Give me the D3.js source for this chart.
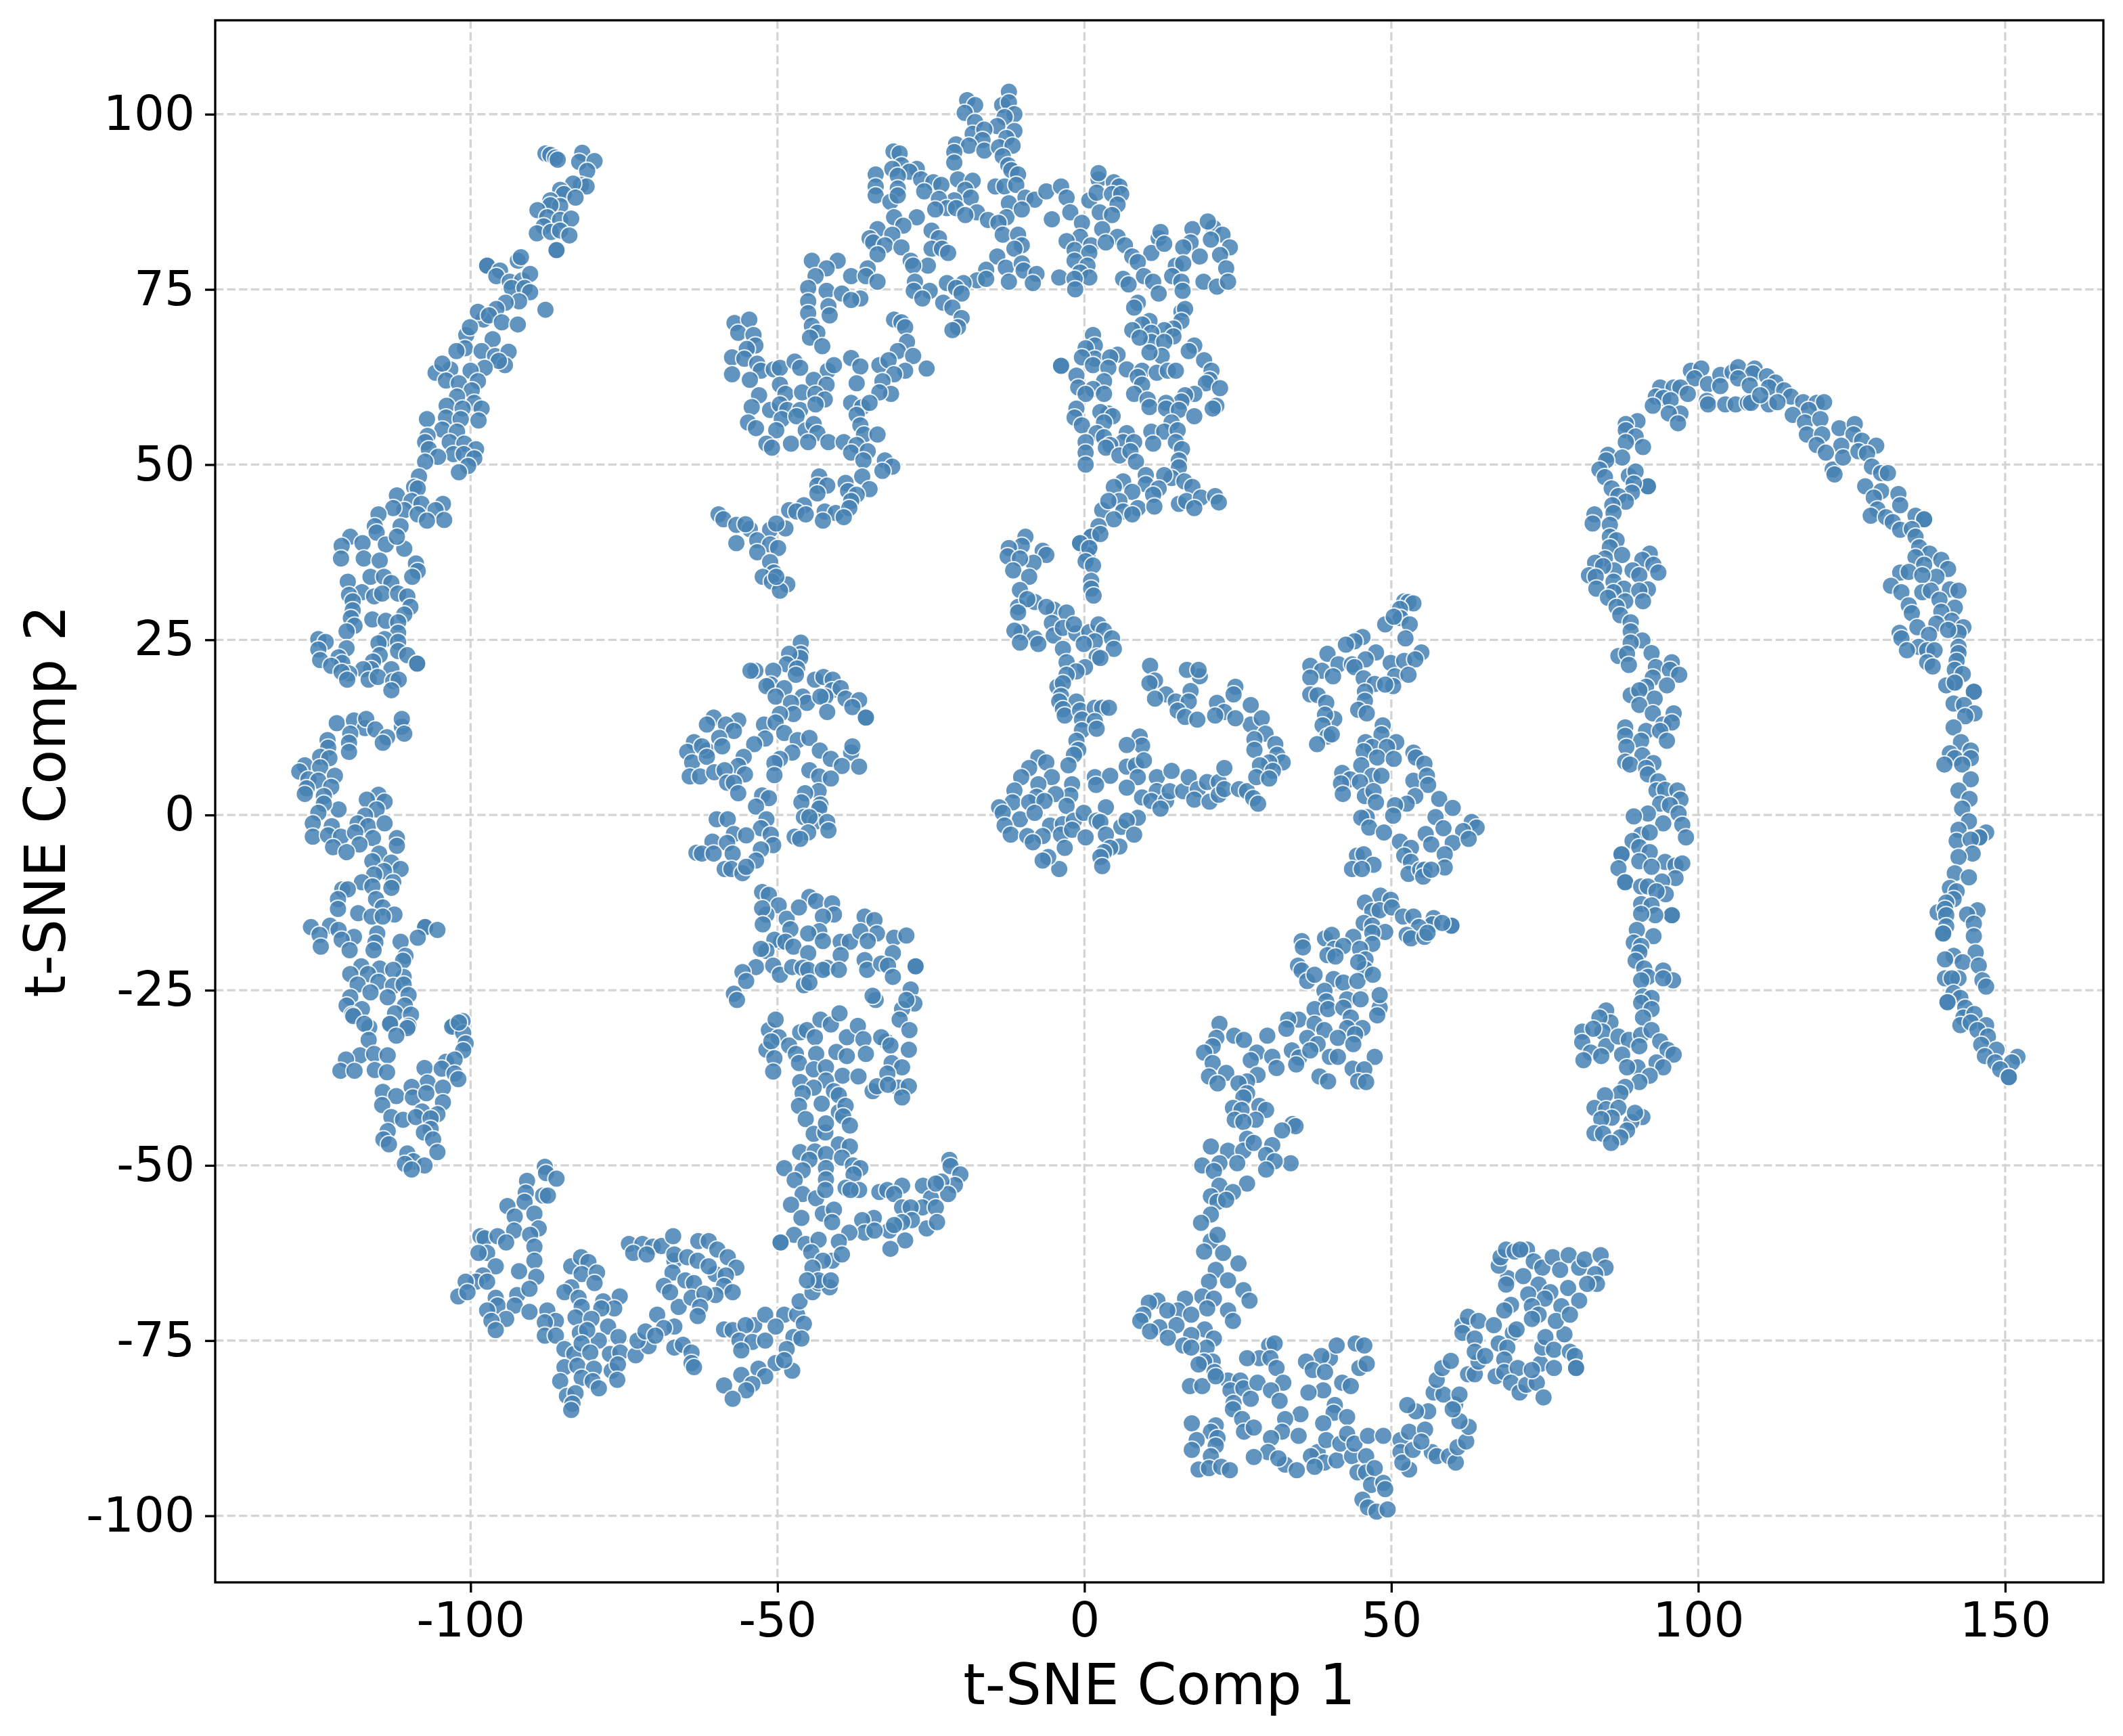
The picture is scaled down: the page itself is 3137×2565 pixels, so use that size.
<!DOCTYPE html>
<html lang="en">
<head>
<meta charset="UTF-8">
<title>t-SNE scatter</title>
<script src="https://d3js.org/d3.v7.min.js"></script>
<style>
  html, body { margin: 0; padding: 0; background: #fff; }
  svg { display: block; }
  text { font-family: "DejaVu Sans", sans-serif; fill: #000; }
</style>
</head>
<body>
<div id="my_dataviz"></div>
<script>
// tick labels
const xTicks = [-100, -50, 0, 50, 100, 150];
const yTicks = [-100, -75, -50, -25, 0, 25, 50, 75, 100];

// points, one list per arm of the embedding
const leftArmTop = [[-87.8,94.4],[-87,94.2],[-86.2,93.8],[-85.8,93.5],[-81.8,94.5],[-82.3,93.2],[-79.8,93.3],[-81,91.9],[-82,89.9],[-81.1,89.7],[-83.3,90.1],[-85.4,89.2],[-84.8,88.6],[-82.9,88.1],[-87,87.7],[-85.4,86.9],[-87,87],[-89.1,86.3],[-87.5,85.3],[-85.4,84.9],[-83.6,85.1],[-88.1,84],[-89.2,83],[-86.9,83.2],[-85.4,83.4],[-83.9,82.7],[-86,80.6],[-86,80.6],[-97.3,78.4],[-97.3,78.4],[-92.3,79.1],[-91.8,79.6],[-95.2,77.7],[-95.8,76.9],[-93.6,76.1],[-91.6,76.3],[-90.3,77.2],[-93.3,75.2],[-91.2,75.2],[-90.3,74.6],[-92.1,73.3],[-87.8,72.1],[-94.3,73.1],[-95.8,72.2],[-97.9,70.7],[-98.8,71.8],[-97,71.3],[-94.9,70.3],[-92.3,70],[-100.7,68.5],[-96.4,67.9],[-100.1,69.6],[-100.9,66.6],[-102.3,66.2],[-98.2,66.2],[-96,65.5],[-93.8,66.1],[-94.4,64.2],[-95.4,64.8],[-97.7,63.8],[-100,63.4],[-103.3,63.6],[-105.7,63.1],[-104.6,64.4],[-104,62],[-101.9,61.6],[-98.8,61.9],[-99.8,60.6],[-102.2,59.7],[-99.4,58.8],[-103.9,58.4],[-101.3,58],[-98.2,58],[-104,56.7],[-107.1,56.5],[-98.7,56.3],[-101.6,56.5],[-104.6,55],[-102.2,54.7],[-107,54.1],[-107.4,53.2],[-103.4,53.2],[-101,53],[-106.8,52.2],[-99.1,52.2],[-102.8,51.5],[-101.1,51.5],[-99.4,50.9],[-105.3,51.1],[-107.4,50.4],[-100.4,49.8],[-101.9,48.9],[-108.4,48.3],[-109.2,46.8],[-108.6,46.6],[-112,45.6],[-109.6,44.8],[-108,44.4],[-110.8,43.5],[-112.6,43.8],[-115,42.9],[-108.6,42.9],[-104.5,44.4],[-105.7,43.5],[-104.3,42.1],[-107.1,42],[-115.6,41.2],[-111.4,41.2],[-119.6,39.7],[-115.3,40.3],[-117.6,38.8],[-121,38.4],[-113.8,38.6],[-110.8,38],[-112,39.7]];

const leftArmUpper = [[-121.1,36.6],[-117.4,36.6],[-114.8,36.3],[-108.9,35.9],[-108.6,34.8],[-109.5,34],[-120,33.3],[-116.3,34],[-114.1,34],[-112.9,33.1],[-117.7,31.8],[-119.8,31.4],[-115.7,31.2],[-114.4,31.6],[-111.8,31.6],[-110.3,31.2],[-119.2,30.5],[-119.2,29.2],[-109.8,29.7],[-110.8,28.6],[-116,27.9],[-113.8,27.7],[-119.5,28.1],[-118.9,27],[-111.8,27.5],[-120.2,26.2],[-111.8,26],[-114,25.1],[-124.8,25.1],[-123.6,24.7],[-124.8,23.6],[-120.2,23.8],[-115,24.5],[-111.8,24.7],[-111.8,23.4],[-110.3,22.8],[-114.8,22.8],[-124.5,22.1],[-121.5,22.5],[-120.9,21.7],[-122.7,21.3],[-108.7,21.6],[-108.7,21.6],[-112.9,20.8],[-115.9,21.9],[-116.2,20.8],[-117.5,20.8],[-119.8,20.2],[-121,20.4],[-120.1,19.3],[-116.6,19.3],[-115.1,19.7],[-112.6,19.1],[-111.7,19.3],[-112.9,17.8]];

const leftArmMiddle = [[-121.8,13.1],[-119,13.5],[-117.2,12.4],[-117,13.7],[-115.5,12.2],[-111.2,12.6],[-111.2,13.7],[-110.8,11.6],[-113.6,11.1],[-114.3,10.3],[-119.6,11.6],[-123.3,10.7],[-119.8,10.3],[-123.2,9.6],[-119.8,9],[-124.5,8.3],[-123,8.1],[-127,7.1],[-124.5,6.8],[-127.9,6.2],[-122.1,5.6],[-126.4,5.1],[-124.8,4.9],[-126.7,3.8],[-122.7,4],[-123.9,2.7],[-127,3],[-115,2.9],[-116.9,2.2],[-114,1.9],[-115.3,0.8],[-121.5,0.8],[-123.9,1.6],[-124.8,0.3],[-117.2,-0.1],[-125.7,-1.2],[-122.6,-1.6],[-118.4,-1.2],[-116.7,-1.6],[-114,-1.2],[-125.7,-3.1],[-123.2,-2.9],[-121.1,-3.1],[-118.8,-2.5],[-115.9,-3.3],[-122.4,-4.6],[-118.1,-4.2],[-120.2,-5.3],[-112,-3.3],[-112,-4.4],[-114.9,-5.5],[-116,-6.6],[-112.9,-6.8],[-111.4,-7.7],[-114.1,-8],[-115.7,-8.5],[-117.7,-9.6],[-112.6,-9.6],[-116,-10.2],[-112.9,-10.4],[-120.9,-10.6],[-120,-10.6],[-121.6,-12],[-115.4,-12],[-121.6,-13.4],[-114.3,-13.2],[-118.3,-14],[-112.4,-14.2],[-116.1,-14.5],[-114.3,-14.5],[-126,-16],[-107.4,-16],[-107.4,-16],[-105.4,-16.4],[-108.6,-17.5],[-122.9,-15.8],[-121.5,-16.4],[-124.6,-17.1],[-119,-17.4],[-115.2,-16.9],[-121,-17.8],[-124.4,-18.8],[-119.7,-19.3],[-115.5,-18.2],[-115.8,-19.3],[-111.4,-18.1],[-110.6,-20.1],[-111,-20.8]];

const leftArmLower = [[-117.8,-21.6],[-114.8,-21.9],[-119.6,-22.7],[-116.7,-22.7],[-110.9,-23.1],[-112.6,-22.1],[-115,-23.8],[-118.4,-24.2],[-112.6,-24.4],[-110.9,-24.2],[-116.3,-25.3],[-119.6,-26],[-110.1,-25.7],[-113.5,-26],[-120.2,-27.2],[-117.7,-27.7],[-110.7,-27.2],[-119.3,-28.5],[-112.3,-28.3],[-109.7,-28.5],[-113.2,-29.9],[-110.1,-30.1],[-116.5,-30.3],[-102.8,-30.1],[-101.3,-29.4],[-119.1,-28.7],[-117.3,-29.8],[-113.1,-29.8],[-110.3,-30.4],[-112.1,-31.5],[-116.6,-32.1],[-103,-30.2],[-101.2,-31.1],[-101.9,-29.6],[-100.8,-32.6],[-101.2,-33.6],[-118,-34.3],[-115.7,-34.1],[-113.5,-34.3],[-104,-35.2],[-102.6,-34.9],[-120.3,-34.9],[-121.2,-36.5],[-118.9,-36.5],[-115.6,-36.4],[-113.6,-36.7],[-107.5,-36.1],[-104.7,-36.2],[-102.6,-36.9],[-102,-37.7],[-107,-38.2],[-104.5,-38.9],[-109.6,-38.8],[-114.3,-39.5],[-112.1,-40.1],[-109.4,-40.3],[-107.2,-39.7],[-114.4,-41.4],[-104.5,-41],[-107.9,-42.3],[-112.9,-43.1],[-111,-43.5],[-108.9,-43.1],[-105.4,-42.7],[-106.5,-43.3],[-106.5,-44.8],[-113.5,-45.1],[-107.6,-45.3],[-106.1,-46.3],[-114.2,-46.3],[-113.3,-47],[-105.4,-48.1],[-110.3,-48.3],[-109.3,-49.4],[-107.5,-50],[-110.7,-49.8],[-109.6,-50.6]];

const bottomLeftA = [[-87.9,-50.2],[-87.7,-51.1],[-86,-51.9],[-90.8,-52.2],[-88.2,-54.3],[-87.4,-54.3],[-91,-53.9],[-91.2,-55.2],[-94,-55.8],[-89.6,-56.9],[-92.8,-57.3],[-88.9,-59],[-92.9,-59.3],[-90.3,-59.9],[-98.4,-60.1],[-97.7,-60.4],[-95.6,-60.1],[-94.2,-61],[-89.6,-61.6],[-97.3,-62.5],[-98.7,-62.5],[-89.6,-63.6],[-95.9,-64.4],[-92.1,-65.1],[-89.3,-65.9],[-98,-65.7],[-99.1,-66.6],[-100.8,-66.6],[-97.3,-66.6],[-102,-68.7],[-100.5,-68.1],[-92.4,-68.5],[-90.4,-67.6],[-95.9,-68.9],[-95.6,-70],[-97.3,-70.7],[-92.8,-70],[-90.4,-70.9],[-87.5,-70.7],[-86.1,-72.2],[-94.2,-71.9],[-96.6,-72.2],[-87.9,-72.4],[-95.9,-73.5],[-87.9,-74.3],[-86.1,-74.3],[-84.7,-76.2],[-83.1,-76.9],[-83.6,-64.4],[-82,-63.1],[-80.8,-63.8],[-81.9,-65.5],[-79.4,-65.3],[-79.8,-66.8],[-83.6,-67.4],[-84.7,-68.1],[-82.4,-68.9],[-75.7,-68.7],[-78.4,-69.4],[-76.6,-70.4],[-78.7,-70.4],[-81.9,-70.2],[-82.9,-71.7],[-80.3,-71.9],[-77.6,-73],[-82.2,-73.9],[-79.1,-75],[-75.9,-74.5],[-81,-73.5],[-81.9,-75.4],[-80.5,-76.7],[-77.3,-76.9],[-75.6,-76.7],[-73.1,-77.1],[-71,-75.8],[-72.8,-75],[-84.7,-78.8],[-82.6,-78.6],[-79.9,-79],[-77,-79.3],[-76,-78.4],[-85.4,-80.8],[-81.9,-80.3],[-80.1,-80.8],[-79.1,-81.8],[-76.1,-80.6],[-84.3,-82.9],[-82.9,-82.5],[-83.4,-84],[-83.6,-84.9]];

const bottomLeftB = [[-69.6,-71.3],[-66.1,-70.2],[-71.5,-73.7],[-66.8,-73],[-68.5,-73.2],[-69.9,-74.3],[-66.8,-76],[-65.4,-75.6],[-64,-76.7],[-64,-78.2],[-63.6,-78.8],[-74.2,-61.2],[-72,-61.2],[-73.5,-62.5],[-70.3,-61.6],[-68.9,-61.5],[-71.3,-62.7],[-67,-60.1],[-66.8,-63.6],[-62.9,-60.8],[-61.2,-60.8],[-66.8,-62.7],[-64.7,-63.1],[-63,-63.6],[-59.8,-62],[-58.1,-63.1],[-56.7,-64.6],[-60.1,-65.5],[-58.4,-65.7],[-61.2,-64.4],[-67.1,-65.3],[-68.5,-67.2],[-65,-66.4],[-63.6,-66.8],[-67.5,-68.1],[-58.7,-67.2],[-60.1,-68.5],[-57.3,-68.1],[-64,-68.9],[-61.9,-68.3],[-62.6,-70.2],[-63,-71.5],[-58.7,-73.4],[-57.3,-73.5],[-53.8,-72.8],[-55.2,-72.8],[-52,-71.3],[-48.9,-71.3],[-46.8,-71.3],[-50.3,-73],[-45.7,-72.6],[-56.2,-75],[-54.1,-75.2],[-52,-75],[-47.4,-74.5],[-46.1,-74.7],[-55.9,-76.4],[-48.5,-76.2],[-50.3,-78.2],[-53.1,-79],[-47.6,-79.3],[-48.9,-77.8],[-55.9,-79.9],[-52,-80.1],[-58.7,-81.4],[-54.1,-81.2],[-55.1,-82.1],[-57.3,-83.3],[-46.4,-69.4],[-44.3,-68.1],[-43.3,-66.8],[-41.5,-67.4]];

const midLobeTop = [[-46.2,24.6],[-46.2,23],[-46.3,22.4],[-48.1,23],[-48.5,21.5],[-46.8,20.9],[-53.6,20.6],[-54.4,20.6],[-50.7,20.6],[-47,20],[-51.1,18.6],[-48.9,18.1],[-51.8,18.4],[-43.9,19.3],[-42.5,19.7],[-41,19.3],[-41.1,17.8],[-42.2,16.9],[-39.7,18.1],[-45.9,16.9],[-45.2,16],[-50.3,16.9],[-47.8,16],[-43,16.9],[-41.9,14.7],[-38.9,16.6],[-36.7,16.4],[-37.8,15.4],[-35.6,13.9],[-35.6,13.9],[-47.4,14.4],[-49.6,14.4],[-60.4,13.9],[-61.5,12.9],[-56.4,13.5],[-58.4,12.9],[-57.1,12],[-59.5,11],[-52.2,12.9],[-50.3,13.2],[-48.9,11.7],[-52,10.9],[-46.7,10.7],[-44.8,11],[-63.6,10.4],[-64.7,9],[-61.5,9.2],[-62.3,9.8],[-53.8,10.1],[-59,9.8],[-43.1,9.2],[-55.5,8.3],[-63.9,7.5],[-61.5,8.3],[-47.6,8.9],[-49.6,8],[-50.5,7.4],[-41.3,8],[-38,8.9],[-37.8,9.8],[-44.8,6.4],[-39.5,7],[-36.7,6.9],[-56.4,7],[-64.3,5.5],[-62.6,5.5],[-60.3,6.1],[-58.6,6.4],[-55.3,5.8],[-50.5,5.7],[-43.2,5.5],[-41.3,5.2],[-58.2,4.6],[-57.1,4.6],[-56.4,3.1],[-43.3,3.4],[-45.5,3.1],[-52.5,2.8],[-51.4,2.4],[-53.5,1.2],[-46.1,1.8],[-43,1.5],[-43.2,0.9],[-59.9,-0.6],[-58.1,-0.6],[-51.8,-0.6],[-52.7,-1.9],[-45.7,-0.3],[-43.7,-0.9],[-44.8,-0.3],[-41.9,-1],[-57.1,-2.7],[-55.1,-2.9],[-41.7,-2.2],[-45,-2.5],[-51.1,-2.8],[-60.6,-3.8],[-58.2,-4],[-50.7,-4.3],[-47.2,-3.1],[-46.3,-3.4],[-52.7,-4.9],[-63.2,-5.4],[-62.3,-5.5],[-60.4,-5.5],[-57.3,-5.5],[-53.5,-6.5],[-58.6,-7.7],[-57.5,-7.7],[-55.7,-8.3],[-55.1,-7.4]];

const midLobeLower = [[-52.5,-11],[-51.4,-11.4],[-49.8,-12.9],[-44.8,-11.7],[-43.7,-12.3],[-51.8,-14.2],[-52.5,-13.3],[-48.5,-14.8],[-52.4,-15.6],[-46.5,-13.2],[-41.1,-12.6],[-40.8,-14.2],[-42.6,-14.5],[-47.9,-16.3],[-43.2,-16.6],[-45,-16.9],[-49.4,-18.1],[-50.5,-17.8],[-48.7,-18.1],[-42.6,-18],[-47.4,-18.8],[-39.7,-18.1],[-38.2,-18.1],[-51.8,-19.4],[-52.7,-19.1],[-45,-19.7],[-39.7,-20],[-53.5,-21.7],[-55.7,-22.4],[-50.7,-21.5],[-49.6,-22.8],[-47.6,-21.7],[-45.9,-21.8],[-45,-22.1],[-41.9,-21.8],[-42.6,-22.1],[-40,-22.1],[-55.1,-23.7],[-45.7,-24.3],[-57.1,-25.5],[-56.6,-26.4],[-44.8,-23.9],[-35.8,-14.5],[-34.2,-15],[-33.8,-16.9],[-36.5,-16.6],[-35.3,-18],[-31,-17.5],[-29,-17.2],[-35.8,-20.7],[-35.4,-22.1],[-31.2,-19.7],[-33.1,-21.2],[-32,-21.5],[-31.2,-23.1],[-27.5,-21.6],[-27.5,-21.6],[-34,-26.4],[-34.5,-25.8],[-28.3,-24.9],[-27.7,-26.9],[-29.7,-27.7],[-29,-26.4],[-30.1,-29.2],[-28.5,-30.7],[-32.3,-32.3],[-33.1,-31.7],[-28.6,-33.5],[-31.6,-32.9],[-31.4,-35.4],[-29.7,-36],[-32.1,-36.9],[-34.5,-39.4],[-30.3,-38.9],[-28.6,-38.7],[-33.8,-38.7],[-29.7,-40.3],[-32,-38.5]];

const midLobeBottom = [[-51.4,-30.7],[-50.3,-29.2],[-49.8,-31.7],[-51.8,-33.5],[-51,-32.3],[-50.5,-34.7],[-50.7,-36.6],[-48.1,-32.9],[-47,-34.1],[-46.5,-35.4],[-46.3,-31],[-45.2,-30.7],[-43.9,-31.7],[-43,-29.2],[-41.3,-29.9],[-39.9,-28.3],[-38.7,-31.7],[-36.9,-30.1],[-36,-32],[-40.4,-33.8],[-43.7,-34.1],[-38.7,-34.4],[-35.6,-34.1],[-44.1,-36.3],[-42.1,-36],[-39.4,-37.2],[-36.8,-37.3],[-46.3,-38.1],[-42.1,-37.9],[-44.1,-38.9],[-40.8,-39.4],[-45.9,-39.7],[-42.8,-41.2],[-40,-40],[-46.5,-41.5],[-40,-42.4],[-38.9,-41.5],[-45.4,-43.4],[-39.3,-43],[-38.2,-44.3],[-44.1,-45.5],[-42.2,-45.3],[-42.1,-44],[-40,-47],[-38.2,-47.3],[-46.3,-48.1],[-43.9,-48],[-42.1,-48.4],[-39.5,-48.9],[-44.8,-49.2],[-37.7,-50],[-48.9,-50.4],[-45.9,-50.7],[-42.1,-50.4],[-36.5,-50.4],[-47.2,-52.1],[-37.6,-51.3],[-42.1,-52],[-38.9,-53.2],[-36.7,-53.5],[-38.1,-53.5],[-22,-49.2],[-21.8,-50.1],[-20.2,-51.3],[-21.1,-52.8],[-23.3,-52.3],[-22.2,-54.1],[-26.3,-52.9],[-25,-54.7],[-24.2,-52.6],[-33.4,-53.8],[-32.1,-53.5],[-29.7,-52.9],[-31,-54.1],[-45.9,-54.1],[-43.7,-54.7],[-42.2,-53.5],[-47.8,-55.6],[-42.6,-56.9],[-40.8,-56.3],[-46.1,-57.5],[-26.4,-56],[-29.7,-56],[-28.3,-56],[-24.2,-56],[-25.7,-59],[-24,-58.1],[-28.1,-57.8],[-29.7,-58.1],[-31.8,-59.3],[-31,-58.5],[-34.3,-57.5],[-36.2,-57.8],[-35.8,-59.6],[-34.2,-59.3],[-38.3,-59.6],[-29.2,-60.7],[-31.6,-61.9],[-41.1,-58.1],[-47.3,-59.9],[-49.5,-61],[-49.5,-61],[-45.4,-61.2],[-43.3,-60.6],[-40,-60.9],[-44.5,-62.4],[-41.1,-63.6],[-42.6,-63.6],[-44.3,-64.6],[-39.5,-62.7],[-43.3,-66.4],[-45.2,-66.4],[-41.3,-66.4]];

const topArcLeft = [[-12.3,103.2],[-19.1,102],[-17.8,101.3],[-13.4,101.3],[-12.3,101.7],[-19.5,100.2],[-11.4,100],[-13,99.6],[-17.8,98.9],[-14.2,98.3],[-11.4,97.6],[-18.2,97.2],[-16.3,97.8],[-16.6,96.3],[-12.7,96.6],[-20.9,95.7],[-18.8,95.5],[-16.3,94.8],[-13.9,95.3],[-11.7,95.5],[-21.2,94.6],[-21.2,93.1],[-13.3,94],[-12.4,92.7],[-11.9,92],[-10.8,91.4],[-31.1,94.7],[-30.1,94.4],[-29.8,92.7],[-31.3,92.2],[-34,91.4],[-27.3,92.2],[-28.5,91.8],[-30.4,91.2],[-26.6,90.7],[-34,89.7],[-30.4,89.4],[-24.6,90.3],[-23.3,89.9],[-20.6,90.7],[-18.2,90.5],[-14.5,89.7],[-13,89.7],[-11.1,89.9],[-34,88.4],[-31.6,87.5],[-30.4,88.4],[-26.1,89],[-19.4,89.2],[-18.5,88.1],[-21.2,87.7],[-23.7,87.9],[-12.3,87.3],[-9.6,88.1],[-8.1,87.8],[-6.2,89],[-3.8,89.7],[-2.9,88.1],[2.3,90.7],[2.3,91.6],[4.8,90.3],[5.7,89.7],[0.8,87.7],[2,88.8],[4.5,88.6],[6,88.6],[5.4,87.1],[-2.3,86],[-5.3,85],[2.5,86],[4.5,85.6],[-0.4,84.5],[-22.4,86.6],[-24.3,86.4],[-17.5,86],[-20.9,86.6],[-15.7,84.9],[-12.7,85.3],[-10.2,86.4],[-31,85.3],[-27.3,85.3],[-29.5,84.1],[-33.7,83.6],[-19.4,85.6],[-14,84.5],[2.9,83.6],[-24.9,83.4],[-31.3,82.8],[-23.7,82.3],[-35,82.3],[-13.3,82.8],[-10.8,82.8],[5.4,82.5],[-0.7,82.5],[12.1,82.3],[12.4,83.2],[21,83.8],[17.6,83.6],[20.1,84.7],[22.5,82.8],[-2.9,81.9],[1.1,81.3],[3.5,81.7],[6.6,81.3],[-34.4,81.7],[-32.5,81.3],[-29.8,81],[-24.9,80.8],[-23.2,80.8],[-22.2,80.2],[-10.2,81.3],[-11.4,80.8],[10.9,80.2],[13,81.5],[17.3,81.7],[16.1,81],[23.7,81],[20.6,82.1],[-1.6,80.6],[7.8,79.7],[-33.7,80],[-28.3,79.1],[-14.2,79.7],[18.8,79.7],[22.1,79.9],[0.8,80.2],[-1.6,79.1],[8.7,78.9],[0.5,78.4],[-25.5,78.4],[-27.9,78.4],[-16,77.8],[-12.8,78.1],[-10.2,78.7],[14.9,78.4],[23.1,78],[-35.3,78],[16.1,78.7]];

const topArcLower = [[-44.4,79.1],[-40.2,79.1],[-42,78],[-43.8,76.9],[-38,76.9],[-35.6,76.9],[-33.7,76.1],[-9.9,77.7],[-7.8,77.2],[-8.4,75.9],[-4.1,76.7],[-0.7,77.4],[0.8,76.7],[-1.6,76.5],[9.7,76.9],[6.3,76.5],[7.2,75.7],[11.2,76.1],[14.3,76.9],[15.8,76.1],[19.4,76.1],[21.6,75.4],[23.4,76.1],[-17.5,76.3],[-19.7,75.9],[-16,76.5],[-12.3,76.1],[-27.6,76.1],[-22.4,75.9],[-20.9,75.2],[-25.2,74.8],[-1.5,75],[16,74.8],[-27.8,74.8],[-45,75.2],[-42,74.8],[-39.5,74.4],[-36.5,73.7],[-38,73.5],[-26.4,73.7],[-20,74.4],[12.1,74.4],[8.7,73.1],[8.1,72.4],[-45,73.3],[-41.7,72.6],[-23,73.1],[-21.5,72.4],[-45,71.6],[-20,70.9],[-41.5,71.3],[-31,70.7],[-29.8,70.3],[-29.2,69.6],[-44.4,69.8],[-20.6,69.6],[-21.5,69.2],[-43.5,68.8],[-44.7,68.1],[-42.7,66.9],[-57,70.2],[-54.6,70.7],[-56.4,68.8],[-53.9,68.5],[-53.6,67],[-28.9,67.5],[-30.4,66.2],[-55,66.5]];

const upperLeftBlock = [[-57.4,65.3],[-55.4,65.1],[-57.4,62.9],[-53.3,64.4],[-52.7,63.4],[-50.6,63.6],[-49.6,63.8],[-47.2,64.7],[-46.3,63.8],[-41.8,63.4],[-40.8,64.2],[-38,65.2],[-36.5,64],[-33.4,64.2],[-27.9,65.5],[-31.9,64.9],[-25.7,63.7],[-54.5,62.1],[-29.2,63.4],[-31,62.9],[-44.1,62.1],[-37.1,61.6],[-32.9,61.9],[-49.6,61.4],[-42,61.4],[-53,59.9],[-48.7,60.1],[-46,60.3],[-43.8,60.1],[-42.3,59.3],[-31.5,60.1],[-33.4,60.3],[-54.2,58.2],[-51.2,57.8],[-49.6,58.6],[-48.4,57.8],[-46.3,57.8],[-43.8,58.6],[-38,58.8],[-36.2,58.2],[-35,58.8],[-37.1,57.1],[-54.8,56],[-53.5,55.2],[-49.3,56.5],[-46.9,56.9],[-50.2,54.9],[-45.4,54.9],[-44.1,55.8],[-36.5,55.6],[-43.5,54.5],[-51.8,53],[-50.9,52.4],[-47.8,53],[-45,53.2],[-41.7,53.2],[-39.2,53.2],[-35.9,54.3],[-33.7,54.3],[-37.1,52.8],[-38,51.7],[-35.3,51.9],[-36,50.6],[-32.5,50.6],[-31.3,49.7],[-32.9,49.1],[-36.2,48.3],[-43.2,48.3],[-43.5,47],[-41.9,47],[-38.9,47.4],[-35,46.5],[-38.5,46.2],[-43.5,45.9],[-37.1,45.7],[-38,44.8],[-48.1,43.5],[-45.7,44.2],[-46.9,43.3],[-45.4,42.9],[-42.3,43.3],[-40.5,43.1],[-38.3,43.8],[-39.2,42.5],[-42.6,42],[-59.6,42.9],[-58.8,42.2],[-56.7,41.4],[-54.5,40.8],[-55.2,41.5],[-51.2,40.7],[-48.7,40.9],[-50.2,41.6],[-56.7,38.8],[-53.3,39.2],[-51.2,38.6],[-53.3,37.5],[-49.9,38.1],[-51.2,36.1],[-50.6,34.6],[-52.4,34],[-50.9,33.3],[-48.4,32.9],[-49.6,32],[-50.2,34]];

const upperRightBlock = [[15.8,71.8],[16.4,72.2],[15.8,70.5],[14.5,69.4],[13,69.2],[10.6,70.5],[9.4,70],[7.8,69.2],[1.4,68.5],[10.9,68.8],[10.9,67.5],[14.5,68.3],[9,68.1],[13,67.5],[1.7,67],[0.2,66.6],[17.9,67],[17,66.2],[5.4,65.7],[1.7,65.1],[4.2,65.3],[-0.4,65.3],[12.6,65.5],[10.6,66],[19.5,64.9],[-3.8,64.1],[-3.8,64.1],[1.4,64.2],[3.9,63.8],[6.9,63.6],[9.4,63.4],[11.8,63.1],[13.6,63.4],[14.9,63.4],[20.7,63.4],[-1.3,62.7],[8.7,62.5],[3.2,61.9],[20.4,62.1],[9.4,61.4],[19.8,61.6],[-1,61],[1.4,60.8],[22.1,60.9],[0.2,60.1],[3.2,60.1],[8.1,60.1],[17.9,60.1],[16.4,59.9],[10.3,59.3],[15.8,59],[13.3,58.8],[21.5,58.4],[-1.3,58],[3.9,57.3],[2.6,57.5],[10.6,58.2],[13.3,58],[15.4,57.8],[20.9,58],[-1.6,56.7],[4.6,56.9],[17.9,56.9],[14.2,56],[-0.4,55.6],[3.2,56],[10.9,54.7],[13,54.7],[15.2,54.9],[2,54.5],[6.9,54.5],[3.2,53.9],[0.2,53.2],[6.3,53.2],[8.1,53.2],[4.2,52.8],[11.2,53],[14.9,53.2],[0.2,51.7],[3.5,52.4],[5.7,51.3],[7.5,51.9],[15.9,52.2],[8.4,50.4],[0.2,50],[15.4,50.6],[15.4,49.6],[10,48.5],[14.2,48.1],[16.3,47.6],[13,48.5],[6.3,47.6],[4.8,46.8],[10,47.2],[7.8,46.1],[12.1,46.6],[17.6,46.8],[11.2,45.7],[5.7,44.8],[8.7,43.8],[2.9,43.5],[3.9,44.8],[15.4,44.4],[16.6,44.8],[19,45.3],[21.3,45.5],[21.9,44.6],[17.9,43.8],[11.4,44],[6.3,43.3],[7.8,42.9],[4.8,42.2],[2.3,41.2],[1.1,39.7],[0.8,38.4],[-0.7,38.8],[0.5,37.1]];

const centerStem = [[1.1,39.7],[-0.7,38.8],[0.8,38.1],[0.2,36.2],[1.4,35.6],[1.1,33.4],[1.1,32.3],[1.5,31.3],[2.6,40.1],[-9.6,39.7],[-10.2,38.4],[-12.3,38.1],[-6.8,37.7],[-6.2,37.1],[-12.5,36.9],[-8.3,36],[-10.5,36.6],[-11.6,34.9],[-9,34],[-10.5,32.1],[-10.8,29.7],[-8.1,30.4],[-9.3,30.8],[-10.8,28.9],[-5,29.3],[-6.2,29.7],[-2.9,28.9],[-5.3,27.4],[-10.2,26.1],[-11.4,26.3],[-8.1,25.2],[-10.5,24.6],[-7.5,24.4],[-5,25.6],[-3.5,26.7],[-1.3,25.9],[-1.7,27.2],[0.8,26.1],[2.3,27.2],[3.2,26.3],[1.7,24.8],[4.5,25.2],[4.8,23.7],[-3.5,23.7],[-0.1,24.4],[2,22.6],[2.6,22.4],[-2.9,21.8],[0.1,21.1],[-1.3,20.5],[-2.9,20],[-4.4,18.3],[-3.5,18.8],[-3.8,17],[-1.3,16.2],[-4.1,16.2],[-3.5,15.1],[-3.2,14.2],[-0.7,14.9],[1.7,15.3],[2.9,15.3],[4,15.3],[-0.4,13.6],[1.7,13.4],[-0.4,12.1],[2,12.3],[-1.3,10.6],[-1,9.3],[-1.7,8.6]];

const centerBlob = [[-7.5,8.2],[-9,6.7],[-6.2,7.5],[-2.6,7.1],[-5.3,5.4],[-10.3,5.4],[-11.4,3.5],[-7.5,4.4],[-2,4.4],[-2.3,2.8],[-4.7,3],[-7.8,2.6],[-11.7,1.8],[-13.9,1.1],[-9,1.8],[-6.5,2],[-13.3,0.3],[-10.5,-0.6],[-2.9,1.3],[-8.1,0.3],[-13,-1.5],[-5.6,-1.5],[-3.5,-1.3],[-12,-2.8],[-9.3,-3],[-6.8,-3],[-3.8,-2.8],[-1.7,-0.8],[-0.1,0.3],[-2,-2.1],[-3.2,-4.7],[0.2,-3.2],[-4.1,-7.7],[-5.9,-6],[-6.8,-6.5],[-8.4,-3.9],[1.7,5.4],[4.2,5.6],[1.9,4.3],[6.9,6.9],[8.4,7.1],[9,11.2],[9.4,9.9],[6.9,10],[8.7,5.4],[9.7,7.8],[6.9,3.9],[11.8,5.4],[3.5,1.1],[9.4,2.5],[11.8,3.4],[10.9,2],[13.3,2],[12.4,0.9],[14.2,6.3],[13.9,3.4],[16.1,3.4],[17,5.4],[18.5,3.7],[17.9,2.2],[20.4,1.9],[20,4.7],[21.9,4.7],[22.8,6.7],[21.9,2.9],[22.8,3.7],[25.2,3.7],[26.5,3.4],[27.5,2.4],[28.3,1.6],[2,-0.8],[2.6,-1],[6,-1.7],[8.7,-0.4],[6.9,-0.8],[8.1,-2.8],[3.5,-2.8],[5.7,-4.5],[4.2,-4.7],[3.2,-5.3],[2.6,-6],[2.9,-7.3],[10.7,21.3],[11.5,19.2],[10.6,18.8],[18.8,19.8],[16.7,20.7],[18.6,20.7],[17.3,17.7],[13.3,17.2],[11.5,16.6],[14.9,16.2],[17,16.2],[15.2,14.9],[16.4,14],[18.4,13.6],[24.6,18.3],[24.3,17.2],[21.6,16],[27.1,15.7],[22.8,14.7],[21.3,14.2],[27.1,12.9],[28.9,13.8],[24.6,13.8],[29.5,11.6],[27.7,10.8],[31.1,10.1],[27.7,9.3],[31.4,8.6],[32.3,7.5],[30.1,7.5],[28.6,7.1],[30.7,6.3],[28,5.4],[30.1,5.2]];

const rightLobeUpper = [[52.1,30.5],[52.8,30.4],[53.6,30.2],[51.4,29.4],[51.5,28.1],[49,27.2],[53,27.2],[50.4,28.3],[52.3,25.2],[45.3,25.4],[44,24.8],[42.6,24.3],[47.5,23.2],[54.9,23.2],[39.6,23],[36.8,21.3],[41.4,21.5],[43.6,21.5],[45.8,22.2],[49.9,21.7],[52.1,22],[53.9,22.2],[38.7,20.6],[44,21.1],[36.8,19.6],[40.5,19.8],[45.5,19.5],[50.6,19.8],[52.8,20],[47.3,18.7],[50.3,18.4],[49,18.6],[36.8,17.2],[38,17.1],[45.7,17.6],[39.4,16],[45.7,16.3],[44.6,15],[46,14.5],[40.7,13.7],[39.2,14.3],[38.8,12.8],[39.6,11.2],[37.9,10.1],[40.3,11.5],[48.6,12.8],[48.4,11.5],[45.8,10.4],[50.8,10.4],[46.9,9.7],[49.3,9.7],[53.6,8.9],[54,8.2],[45.5,9.1],[47.7,8.2],[50.4,8],[55.4,7.3],[45.1,7.1],[42,6],[46.9,5.6],[43.3,5.1],[48.4,5.6],[53.6,4.9],[55.8,5.6],[41.8,4.5],[44.9,4.7],[42.1,3],[56,4.3],[45.7,2.7],[47.1,3.4],[47.5,1.8],[53.9,2.7],[52.5,1.6],[50.6,1.4],[57.8,2.3],[60,1],[46,-0.3],[45.1,-0.4],[50.3,-0.1],[57.2,-0.3],[46.4,-1.8],[48.8,-2.5],[63.1,-1],[63.9,-1.8],[58.5,-1.9],[61.7,-2.3],[55.6,-2.7],[51.4,-3.8],[56.5,-4.2],[60,-4],[62.6,-3.4],[53.2,-4.7],[58.7,-5.6],[58.7,-7.5],[52.1,-5.8],[53.2,-6.7],[52.8,-8.4],[54.7,-7.8],[55.4,-7.8],[55.2,-8.8],[56.5,-7.8],[44.4,-5.8],[45.5,-5.6],[47.1,-7.1],[43.6,-7.7],[45.2,-7.7],[48.2,-11.5],[45.7,-12.5],[49.9,-12.1],[46.9,-13.7],[48.1,-13.6],[50.1,-13.2],[51.9,-14.5],[53.6,-14.5],[56.9,-14.7],[59.8,-15.8],[59.8,-15.8],[56.7,-15.6],[58.3,-15.4],[54.5,-16],[45.5,-15.4],[46.9,-15.8],[49,-16.7],[52.5,-17.1],[53.2,-17.6],[55.4,-17.4],[55.9,-16.8],[46.9,-16.8],[43.8,-17.4],[35.4,-18],[35.6,-18.9],[39.2,-17.6],[40.3,-17.1],[40.7,-19.1],[42.2,-18.7],[46.9,-18.4],[44.9,-19.1],[39.6,-20],[40.9,-20.2],[34.8,-21.5],[35.4,-22.2],[45.8,-20.6],[45.7,-22],[44.6,-21]];

const rightLobeLower = [[36.3,-23.7],[37.5,-22.8],[40.6,-23.4],[42.2,-23.9],[44.5,-23.7],[47,-22.8],[39.1,-25.1],[42.8,-26.3],[39.4,-26.6],[45,-26.3],[48.1,-27.5],[37.5,-27.7],[39.7,-27.7],[42.2,-27.5],[48.1,-25.7],[43.4,-28.9],[47.7,-28.6],[34.9,-29.2],[33.2,-29.2],[37.5,-29.8],[32.9,-30.5],[39.1,-30.7],[45.3,-30.4],[42.8,-30.4],[44.1,-31.3],[36.3,-31.8],[41.3,-31.8],[38,-32.7],[43.8,-32.7],[22,-29.8],[24.4,-31.5],[26,-32.1],[21.5,-31.8],[20.9,-33],[29.8,-31.5],[28.1,-33.9],[30.6,-34.5],[33.8,-33.6],[35,-34.6],[36.8,-33.6],[19.5,-33.9],[20.9,-35.4],[40,-34.5],[41.3,-34.5],[47.3,-34.5],[27.1,-35],[31.3,-36.1],[34.5,-35.6],[20.3,-37.3],[23.1,-36.8],[43.7,-36.2],[45.6,-36.3],[38.3,-37.3],[39.7,-38],[44.6,-38],[45.9,-38.1],[28.2,-37.1],[26.5,-38],[25.1,-38.3],[21.7,-38.3],[26.5,-39.7],[25.9,-40.3],[24.2,-41.8],[25.6,-42.1],[28.5,-41.5],[29.6,-42.1],[24.5,-43.5],[27.9,-43.5],[25.9,-43.8],[33.9,-44.1],[34.4,-44.4],[32.2,-45],[30.6,-47.1],[26.5,-46.2],[20.6,-47.3],[23.4,-47.9],[25.9,-47.9],[27.6,-46.8],[29.6,-48.5],[22,-49.7],[19.2,-50],[24.9,-49.7],[33.6,-49.7],[31,-49.4],[29.6,-50.6],[21.1,-50.8],[26.5,-52.6],[22,-52.9],[24.2,-53.8],[20.6,-54.4],[21.7,-55.2],[23.1,-54.9],[20.6,-57],[19,-58.2],[20.6,-60.8],[21.7,-59.9],[19.5,-62.3],[22.6,-62.5],[25.1,-64],[21.4,-64.9],[23.4,-66.4],[20.3,-66.6],[25.9,-67.8],[19.2,-68.7],[21.1,-69],[26.9,-69.3],[20,-70.4],[23.4,-70.7],[24.2,-72.2]];

const bottomRightA = [[11.9,-69.3],[10.5,-69.6],[16.4,-69],[15.2,-70.7],[13.5,-70.7],[9.6,-71.3],[9.1,-72.2],[17.4,-71.3],[15,-72.8],[12.2,-73.1],[19.6,-73.4],[10.7,-73.7],[17.4,-74.2],[21.1,-74.7],[13.6,-74.6],[16.1,-75.7],[19.9,-76],[17.4,-76],[30.1,-75.7],[31,-75.4],[28.5,-77.5],[26.5,-77.5],[30.3,-77.5],[20.9,-78],[19.5,-78],[18.6,-78.4],[31.3,-78.9],[21.2,-79.5],[17.2,-81.5],[19.2,-81.5],[23.4,-80.7],[25.4,-80.7],[21.4,-80.1],[23.8,-82.1],[25.9,-81.8],[28.2,-81],[32.4,-81],[30.4,-82.1],[24.3,-83.9],[27.1,-83.3],[31.8,-83.6],[35.2,-85.5],[24.2,-84.8],[25.7,-86.2],[32.7,-86.2],[26,-88],[27.6,-87.4],[32.2,-88],[40,-77.5],[38.6,-77.2],[41.1,-75.7],[44.2,-75.4],[45.6,-75.7],[36.1,-78],[37.2,-79.2],[39.2,-79.5],[44.8,-78.9],[46,-78.3],[38.9,-82.1],[42,-81],[43.4,-81.5],[36.5,-82.4],[40.8,-84.2],[40.6,-85.3],[38.9,-86.8],[42.8,-85.9],[17.5,-86.8],[21.4,-87.1],[20.6,-88],[18.3,-89.2],[21.7,-88.9],[17.5,-90.6],[21.4,-90],[20.6,-91.5],[18.6,-93.4],[20.3,-93.2],[22.3,-93],[23.7,-93.5],[30.4,-88.9],[34.9,-88.6],[29.9,-90.9],[27.6,-91.6],[32.7,-92.7],[31.6,-91.8],[34.6,-93.5],[38,-90.9],[36.9,-91.5],[39.1,-92.4],[37.5,-93],[39.4,-89.2],[41.1,-92.1],[41.7,-89.7],[42.8,-88.3],[43.6,-91.5],[44,-89.7],[46.2,-88.6],[48.7,-88.6],[45.9,-91.5],[44.5,-93.8],[45.9,-93.8],[47.3,-93.2],[46.7,-95.6],[48.7,-95.3],[45.3,-97.7],[46.2,-98.8],[47.6,-99.4],[49.4,-99.1],[49,-96.2]];

const bottomRightB = [[51.5,-89.2],[52.9,-88],[51.5,-90.9],[52.9,-93.4],[51.8,-92.4],[53.5,-90.6],[55.5,-87.7],[56.6,-90.9],[54.9,-89.4],[57.4,-91.5],[59.4,-91.5],[60.5,-92.4],[60.8,-90.2],[62.2,-89.4],[62.6,-87.3],[61.1,-86.5],[60.4,-84.1],[56,-85.1],[54,-85.1],[52.6,-84.2],[56.9,-82.4],[58.5,-82.7],[61.1,-82.7],[57.4,-80.6],[58.3,-78.9],[59.7,-77.9],[60,-84.8],[62.5,-79.8],[63.6,-79.8],[64.2,-78],[61.6,-72.8],[62.5,-71.6],[64.2,-72.2],[66.7,-72.8],[61.6,-73.9],[63.6,-74.7],[69.8,-73.9],[70.4,-73.4],[67.5,-75.4],[68.9,-76],[63.6,-76.6],[65.3,-77.2],[68.4,-77.7],[67,-80.1],[68.4,-79.5],[70.6,-78.9],[69.5,-81],[70.9,-82.4],[72,-81.3],[73.7,-81],[74.8,-83.1],[74.3,-78.3],[74.6,-76],[75.1,-74.5],[76.5,-76.3],[76.5,-78.9],[78.2,-74.1],[79.1,-76.6],[79.9,-77.2],[80.1,-78.9],[80.1,-78.9],[72.9,-79.2],[69,-66.1],[67.5,-64.3],[67.8,-63.1],[68.7,-62],[70.1,-62.3],[72.1,-62],[71,-62],[68.7,-67],[71.5,-65.8],[73.2,-63.7],[74.6,-64.6],[76.3,-63.1],[77.5,-64.9],[78.9,-62.8],[80.6,-64.6],[81.5,-63.4],[84.1,-62.8],[84.9,-64.6],[83.2,-65.5],[83.5,-66.9],[74,-67],[75.9,-68.1],[78.8,-67.5],[72.3,-68.4],[80.6,-69.3],[75,-69],[69.5,-69.9],[68.4,-70.7],[72.9,-70.1],[77.7,-70.1],[74,-71.3],[72.9,-71.9],[76.8,-72.2],[79.1,-71.3],[81.9,-66.9]];

const arcTop = [[98.8,63.4],[100.5,63.7],[99.4,62.3],[101.6,61.5],[103.6,62.8],[105.6,63.2],[106.5,63.9],[109.2,63.7],[108.9,63],[106.5,62.3],[108.4,61.3],[103.6,61.2],[111.2,62.6],[112.6,61.7],[111.5,61],[114,60.6],[115.1,59.7],[101.4,59.1],[101.6,58.6],[104.4,58.6],[106.1,58.6],[108.1,58.8],[108.6,58.8],[111.5,58.6],[112.9,58.9],[110.1,59.9],[117.1,58.9],[119.3,58.8],[120.5,58.9],[118,57.8],[115.4,57.1],[93.8,61],[93.1,59.7],[96,61],[97.1,61],[98.3,60.1],[94.3,59.5],[92.6,58.4],[95.5,59.2],[97.1,57.3],[95.2,57.3],[96.7,55.9],[117.4,56],[119.9,56.5],[123,55.2],[125.5,55.8],[117.7,54.3],[120.2,54.3],[125.3,54.3],[123.3,52.7],[126.7,53.4],[129,52.7],[119.3,52.8],[120.8,51.7],[121.9,49.3],[122.2,48.6],[123.6,51],[126.1,51.9],[127.5,51.6],[128.3,49.7],[129.8,48.8],[130.9,48.8],[127.2,46.9],[129.8,46.2],[128.6,45.3],[132.6,45.8],[132.9,44.2],[129.2,43.6],[128.1,42.7],[130.6,42.5],[131.7,41.8],[135.4,42.7],[136.8,42.2],[136.8,42.2],[132.9,40.7],[134.8,40.8],[135.4,39.7],[136,38.2],[137.7,37.3],[139.6,36.4],[135.4,36.8],[136.8,35.7],[140.7,35.1],[132.9,34.6],[134.3,34.7],[138.8,34],[136.5,34.2],[131.4,32.7],[141,32.2],[142.4,32],[133.1,31.8],[136.5,31.8],[137.9,32],[134.3,29.9],[139.3,30.7],[141.8,29.6],[134.8,28.8],[139.6,29],[141.3,27.7],[138.8,27.3],[135.7,26.8],[143.2,26.8],[142.4,26],[132.8,26],[137.6,25.7],[133.1,25.2],[140.7,26.4],[135.9,24],[134,23.5],[137.3,23.5],[138.5,23.5],[137.3,21.8],[138.2,21.2],[142.4,24],[142.4,23.1],[142.1,22],[141.8,20.7],[143.1,20.1],[141.8,18.8],[140.4,18.5]];

const arcLeft = [[90.1,56.2],[88.2,55.8],[88.2,54.9],[89.8,54],[88.2,53.2],[91,52.5],[85.3,51.4],[87.6,51],[85,50.6],[83.9,49.3],[84.8,48.2],[88.7,48.4],[89.8,49],[91.8,46.9],[91.8,46.9],[89.5,47.3],[85.9,46.6],[89.2,46],[87,45.5],[88.2,44.7],[83.1,42.9],[86,44.2],[86.2,43.1],[82.8,41.6],[85.6,41.4],[85.6,39.7],[86.7,39.2],[85.6,38.2],[84.8,36.6],[87.6,37.1],[92.1,37.3],[90.9,36.4],[83.2,36],[86.3,34.9],[84.5,35.5],[92.7,35.7],[82.2,34.2],[83.3,34],[89.3,34.9],[93.5,34.6],[90.4,34.2],[86.2,33.3],[83.4,32.3],[87.9,32.3],[91.8,32.2],[90.4,32],[86.2,31.8],[85.3,31],[91,30.5],[88.1,30.5],[86.7,29.7],[87.3,28.5],[89,27.5],[89,26.2],[90.9,24.9],[89,24.6],[92.4,23.1],[87,22.7],[88.4,23],[88.7,21.4],[93.1,21.1],[95.7,21.8],[95.4,20.7],[96.9,20],[92.6,19.6],[94.9,18.5],[91.5,18.3]];

const stripLeft = [[89,17.1],[90.4,17.8],[92.9,16.6],[90.4,15.7],[92.6,14.5],[96,14.5],[88.1,12.5],[94.3,12.9],[95.7,13.2],[88.1,11.3],[91.5,12],[93.8,12],[94.9,10.6],[90.7,10.6],[88.3,9.7],[90.9,8.5],[88.1,7.6],[88.9,7.2],[92.7,7.4],[91.5,6.7],[91.8,5.8],[93.5,4.8],[93.2,3.5],[94.6,3.6],[96.6,3.5],[97.1,2.2],[93.8,1.6],[95.4,1.4],[91.8,0.2],[89.5,-0.2],[96.8,0.2],[94.3,-1.2],[97.4,-1.4],[90.7,-2.8],[92.1,-2.5],[98,-3.2],[89.3,-3.7],[90.4,-4.6],[92.1,-5.3],[87.5,-5.6],[87.5,-5.6],[90.4,-6.6],[87,-7.6],[94.6,-6.7],[96.3,-7.2],[92.4,-7.4],[97.4,-6.9],[96.3,-9],[94.1,-9.5],[88.1,-9.6],[88.1,-9.6],[90.7,-10.2],[91.8,-10.2],[94.7,-11.3],[93.2,-10.9],[90.7,-12.7],[92.4,-12.9],[95.7,-14.3],[95.7,-14.3],[93,-14.3],[90.7,-14.1],[90,-16.4],[92.7,-17.3],[89.5,-18.2],[90.7,-18.7],[90.4,-19.6],[89.8,-20.8],[91.2,-21.9],[94.3,-22.2],[91.8,-23.1],[95.9,-23.6],[90.7,-23.6],[94.3,-23.3],[91,-25.9],[92.4,-26.1],[90.7,-26.8],[92.4,-27.7],[91,-28.9],[85,-27.9],[85.7,-29.6],[83.9,-28.9],[81.1,-30.9],[84.4,-30.9],[82.9,-30.5],[81.1,-32.4],[85,-33],[87,-31.6],[88.7,-32.1],[90.7,-31.4],[92.4,-30.7],[93.8,-32.3],[90.4,-33],[95,-33.5],[82.5,-33.9],[81.3,-35],[84.2,-34.4],[87.6,-34.2],[96,-34.2],[90.1,-36],[93.2,-35.3],[94.3,-36],[88.4,-36],[92.1,-37.2],[90.4,-38.1],[88.1,-38.8],[87.3,-39.7],[84.8,-40],[83.1,-41.8],[85,-42],[87,-41.8],[90.9,-43.1],[85.9,-43.2],[84.2,-43.4],[89.1,-43.8],[89.7,-42.5],[83.1,-45.4],[84.5,-45.5],[88.4,-45],[87.3,-46],[85.8,-46.8]];

const stripRight = [[141.8,18.9],[144.9,17.6],[144.9,17.6],[141.6,15.9],[143.3,15.7],[145,14.5],[143.5,14.1],[141.6,12.5],[142.8,10.4],[144.4,9.2],[141,8.8],[141.8,8.1],[140.1,7.2],[144.4,8.1],[143,7.2],[144.4,5.1],[142.4,3.5],[144.2,2.3],[143,0.9],[144.1,-0.9],[142.4,-2.1],[142.1,-3.7],[146.9,-2.5],[145.8,-3.2],[145.8,-3.2],[144.4,-3.5],[144.7,-5.5],[142.4,-6],[141.8,-8.3],[144.1,-8.9],[141,-10.4],[142.1,-10.9],[141.6,-12],[140.4,-12.5],[139,-13.9],[140.2,-13.4],[140.4,-14.3],[145.5,-13.6],[143.8,-14.2],[144.9,-15.5],[140.4,-15.9],[139.9,-16.9],[139.9,-16.9],[144.9,-17.3],[145.2,-19.6],[141.6,-20.1],[140.2,-20.6],[143.1,-21],[145.7,-21.5],[140.2,-23.3],[142.4,-23.3],[141.3,-23.3],[146.3,-23.6],[146.9,-24.5],[141.6,-25.4],[142.7,-26.1],[140.6,-26.7],[140.6,-26.7],[143.5,-27.5],[143.2,-28.9],[145,-28.4],[142.7,-30],[144.4,-29.6],[146.9,-30],[145.5,-30.7],[147.2,-31.6],[146.1,-32.8],[148.6,-33.5],[146.7,-34.4],[148.4,-35.3],[152,-34.5],[151.1,-35.3],[149.2,-36.3],[150.6,-37.4],[150.6,-37.4]];

const arms = [leftArmTop, leftArmUpper, leftArmMiddle, leftArmLower, bottomLeftA, bottomLeftB,
  midLobeTop, midLobeLower, midLobeBottom, topArcLeft, topArcLower, upperLeftBlock, upperRightBlock,
  centerStem, centerBlob, rightLobeUpper, rightLobeLower, bottomRightA, bottomRightB,
  arcTop, arcLeft, stripLeft, stripRight];
const points = d3.merge(arms);

const width = 3137, height = 2565;
const margin = {top: 30, right: 29, bottom: 227, left: 318};

const svg = d3.select("#my_dataviz").append("svg")
  .attr("width", width)
  .attr("height", height);

const x = d3.scaleLinear().domain([-141.6, 166]).range([margin.left, width - margin.right]);
const y = d3.scaleLinear().domain([-109.5, 113.4]).range([height - margin.bottom, margin.top]);

// grid
svg.append("g").selectAll("line").data(xTicks).join("line")
  .attr("x1", d => x(d)).attr("x2", d => x(d))
  .attr("y1", margin.top).attr("y2", height - margin.bottom)
  .attr("stroke", "#d4d4d4").attr("stroke-width", 3.3).attr("stroke-dasharray", "12.3,5.3");
svg.append("g").selectAll("line").data(yTicks).join("line")
  .attr("x1", margin.left).attr("x2", width - margin.right)
  .attr("y1", d => y(d)).attr("y2", d => y(d))
  .attr("stroke", "#d4d4d4").attr("stroke-width", 3.3).attr("stroke-dasharray", "12.3,5.3");

// points, a bit larger and more opaque than the original since fewer of them overlap
svg.append("g").selectAll("circle").data(points).join("circle")
  .attr("cx", d => x(d[0]))
  .attr("cy", d => y(d[1]))
  .attr("r", 13)
  .attr("fill", "steelblue")
  .attr("stroke", "#fff")
  .attr("stroke-width", 2)
  .attr("opacity", 0.85);

// axes
const xAxis = svg.append("g")
  .attr("transform", `translate(0,${height - margin.bottom})`)
  .call(d3.axisBottom(x).tickValues(xTicks).tickFormat(d => String(d)).tickSize(15).tickPadding(15).tickSizeOuter(0));
const yAxis = svg.append("g")
  .attr("transform", `translate(${margin.left},0)`)
  .call(d3.axisLeft(y).tickValues(yTicks).tickFormat(d => String(d)).tickSize(15).tickPadding(15).tickSizeOuter(0));

[xAxis, yAxis].forEach(a => {
  a.selectAll("text").style("font-size", "70.8px").style("font-family", "'DejaVu Sans'");
  a.selectAll("line").attr("stroke", "#000").attr("stroke-width", 3.3);
  a.select(".domain").remove();
});

// frame
svg.append("rect")
  .attr("x", margin.left).attr("y", margin.top)
  .attr("width", width - margin.left - margin.right)
  .attr("height", height - margin.top - margin.bottom)
  .attr("fill", "none").attr("stroke", "#000").attr("stroke-width", 3.3);

// axis labels
svg.append("text")
  .attr("x", (margin.left + width - margin.right) / 2)
  .attr("y", 2518)
  .attr("text-anchor", "middle")
  .style("font-size", "83.3px")
  .text("t-SNE Comp 1");
svg.append("text")
  .attr("transform", `translate(96,${(margin.top + height - margin.bottom) / 2}) rotate(-90)`)
  .attr("text-anchor", "middle")
  .style("font-size", "83.3px")
  .text("t-SNE Comp 2");
</script>
</body>
</html>
